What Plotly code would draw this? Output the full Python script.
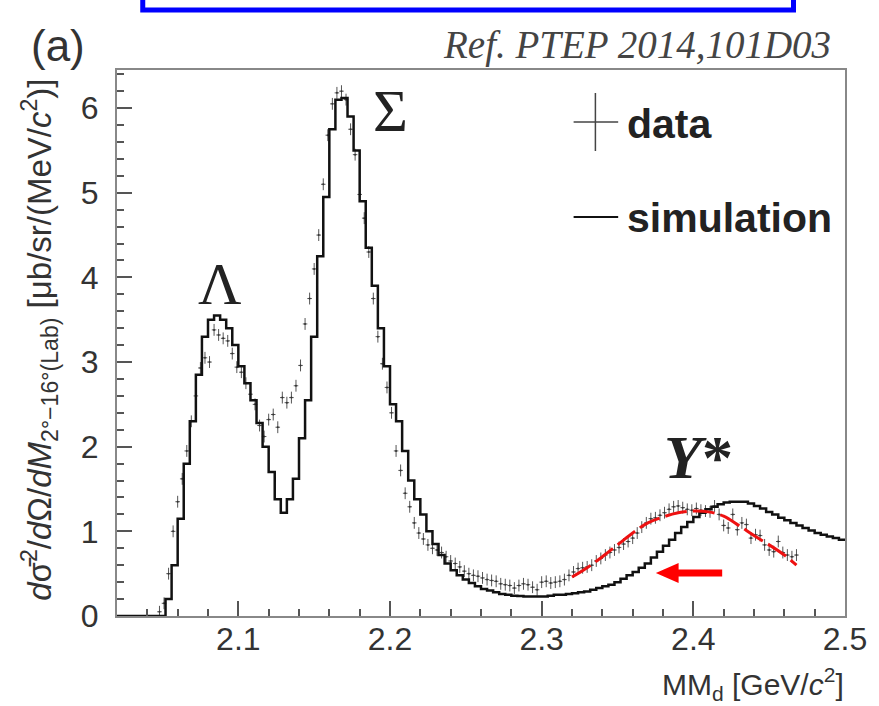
import numpy as np
import plotly.graph_objects as go

# ---------------- data ----------------
# simulation histogram: bins of 4 MeV starting at 2.048 GeV
sim_start = 2.048
sim_width = 0.004
sim_values = [
    0.0, 0.2, 0.6, 1.15, 1.8, 2.3, 2.85, 3.3, 3.5, 3.55,
    3.5, 3.4, 3.2, 2.95, 2.75, 2.55, 2.28, 2.0, 1.7, 1.38,
    1.22, 1.38, 1.62, 2.1, 2.55, 3.3, 4.25, 4.95, 5.75, 6.1,
    6.12, 5.9, 5.5, 4.9, 4.35, 3.9, 3.4, 2.95, 2.5, 2.3,
    1.95, 1.6, 1.38, 1.2, 1.0, 0.85, 0.72, 0.62, 0.54, 0.48,
    0.43, 0.39, 0.35, 0.32, 0.30, 0.28, 0.26, 0.25, 0.24, 0.235,
    0.23, 0.23, 0.23, 0.23, 0.24, 0.25, 0.25, 0.26, 0.27, 0.28,
    0.29, 0.31, 0.33, 0.35, 0.37, 0.40, 0.44, 0.48, 0.52, 0.57,
    0.62, 0.69, 0.76, 0.83, 0.90, 0.98, 1.05, 1.11, 1.17, 1.22,
    1.26, 1.29, 1.32, 1.34, 1.35, 1.35, 1.35, 1.33, 1.30, 1.27,
    1.23, 1.20, 1.16, 1.13, 1.10, 1.07, 1.04, 1.01, 0.98, 0.96,
    0.94, 0.92, 0.90,
]

# measured data points: every 3 MeV starting at 2.048 GeV
data_start = 2.048
data_step = 0.003
data_y = [
    0.05, 0.15, 0.5, 1.0, 1.35, 1.62, 1.95, 2.3, 2.6, 2.93,
    3.05, 3.0, 3.38, 3.32, 3.28, 3.25, 3.1, 2.94, 2.88, 2.75,
    2.62, 2.5, 2.25, 2.12, 2.32, 2.38, 2.23, 2.58, 2.52, 2.58,
    2.72, 2.96, 3.45, 3.75, 4.1, 4.5, 5.1, 5.68, 6.05, 6.18,
    6.2, 6.1, 5.75, 5.45, 4.98, 4.7, 4.3, 3.75, 3.3, 2.98,
    2.7, 2.4, 1.95, 1.72, 1.45, 1.29, 1.1, 0.98, 0.91, 0.84,
    0.8, 0.78, 0.75, 0.7, 0.65, 0.62, 0.58, 0.53, 0.5, 0.48,
    0.47, 0.45, 0.43, 0.42, 0.41, 0.38, 0.37, 0.36, 0.33, 0.36,
    0.38, 0.37, 0.34, 0.31, 0.40, 0.41, 0.39, 0.40, 0.41, 0.43,
    0.48, 0.52, 0.56, 0.57, 0.58, 0.60, 0.65, 0.68, 0.72, 0.75,
    0.78, 0.81, 0.85, 0.88, 0.92, 0.98, 1.05, 1.1, 1.15, 1.16,
    1.19, 1.22, 1.26, 1.29, 1.30, 1.28, 1.26, 1.25, 1.27, 1.25,
    1.24, 1.23, 1.3, 1.2, 1.07, 1.04, 1.2, 1.02, 1.1, 1.08,
    0.92, 0.96, 0.95, 0.84, 0.78, 0.76, 0.88, 0.75, 0.72, 0.7,
    0.72,
]
data_err = 0.07
data_xerr = 0.0015

# Y* fit (red dashed)
fit_x = [2.320, 2.330, 2.340, 2.350, 2.360, 2.370, 2.380, 2.390, 2.400,
         2.410, 2.420, 2.430, 2.440, 2.450, 2.460, 2.468]
fit_y = [0.46, 0.57, 0.70, 0.84, 0.98, 1.10, 1.17, 1.22, 1.24,
         1.23, 1.18, 1.07, 0.95, 0.84, 0.72, 0.60]

x_ticks = [2.1, 2.2, 2.3, 2.4, 2.5]
y_ticks = [0, 1, 2, 3, 4, 5, 6]

# ---------------- derived ----------------
n_sim = len(sim_values)
sim_edges = np.round(sim_start + sim_width * np.arange(n_sim + 1), 4)
step_x = [2.02] + list(sim_edges)
step_y = [0.0] + list(sim_values) + [sim_values[-1]]

data_x = np.round(data_start + data_step * np.arange(len(data_y)), 4)

# ---------------- figure ----------------
W, H = 879, 706
L, R, T, B = 117, 27, 70, 90
pw, ph = W - L - R, H - T - B


def px(xp):
    return (xp - L) / pw


def py(yp):
    return (H - B - yp) / ph


fig = go.Figure()

fig.add_trace(go.Scatter(
    x=data_x, y=data_y, mode="markers",
    marker=dict(color="#333333", size=2),
    error_y=dict(type="constant", value=data_err, color="#555555", thickness=1, width=0),
    error_x=dict(type="constant", value=data_xerr, color="#555555", thickness=1, width=0),
    showlegend=False, hoverinfo="skip",
))

fig.add_trace(go.Scatter(
    x=step_x, y=step_y, mode="lines", line_shape="hv",
    line=dict(color="#111111", width=2.5),
    showlegend=False, hoverinfo="skip",
))

fig.add_trace(go.Scatter(
    x=fit_x, y=fit_y, mode="lines", line_shape="spline",
    line=dict(color="#ee1111", width=3, dash="22px,6px"),
    showlegend=False, hoverinfo="skip",
))

axis_common = dict(
    showline=True, linecolor="#888888", linewidth=2, mirror=True,
    showgrid=False, zeroline=False,
    ticks="inside", tickcolor="#555555", tickwidth=1.5, ticklen=15,
    tickfont=dict(family="Liberation Sans, Arial", size=32, color="#333333"),
)

fig.update_xaxes(
    range=[2.02, 2.5], tickvals=x_ticks, ticktext=[f"{v:.1f}" for v in x_ticks],
    minor=dict(dtick=0.02, tick0=2.0, ticks="inside", ticklen=7, tickcolor="#555555", tickwidth=1.5),
    ticklabelstandoff=-6,
    **axis_common,
)
fig.update_yaxes(
    range=[0, 6.45], tickvals=y_ticks, ticktext=[str(v) for v in y_ticks],
    minor=dict(dtick=0.2, tick0=0, ticks="inside", ticklen=7, tickcolor="#555555", tickwidth=1.5),
    ticklabelstandoff=10,
    **axis_common,
)

shapes = []
# blue box at the top (partially cut)
shapes.append(dict(type="rect", xref="paper", yref="paper",
                   x0=px(143), x1=px(800), y0=py(10), y1=py(-30),
                   line=dict(color="#0000ff", width=5), fillcolor="rgba(0,0,0,0)", layer="above"))
# legend: data cross
shapes.append(dict(type="line", xref="paper", yref="paper",
                   x0=px(600), x1=px(600), y0=py(93), y1=py(151),
                   line=dict(color="#444444", width=1.5)))
shapes.append(dict(type="line", xref="paper", yref="paper",
                   x0=px(578), x1=px(623), y0=py(122), y1=py(122),
                   line=dict(color="#444444", width=1.5)))
# legend: simulation line
shapes.append(dict(type="line", xref="paper", yref="paper",
                   x0=px(578), x1=px(623), y0=py(217), y1=py(217),
                   line=dict(color="#111111", width=2)))
# red arrow (pointing left)
ax_tip, ax_neck, ax_tail = px(661), px(684), px(728)
ay_c = py(573)
hh, sh = 10 / ph, 3.5 / ph
path = (f"M {ax_tip},{ay_c} L {ax_neck},{ay_c + hh} L {ax_neck},{ay_c + sh} "
        f"L {ax_tail},{ay_c + sh} L {ax_tail},{ay_c - sh} L {ax_neck},{ay_c - sh} "
        f"L {ax_neck},{ay_c - hh} Z")
shapes.append(dict(type="path", xref="paper", yref="paper", path=path,
                   fillcolor="#ff0000", line=dict(color="#ff0000", width=0)))

annotations = []
annotations.append(dict(text="(a)", xref="paper", yref="paper", x=px(57), y=py(46),
                        showarrow=False, xanchor="center", yanchor="middle",
                        font=dict(family="Liberation Sans, Arial", size=44, color="#333333")))
annotations.append(dict(text="<i>Ref. PTEP 2014,101D03</i>", xref="paper", yref="paper",
                        x=px(840), y=py(45), showarrow=False, xanchor="right", yanchor="middle",
                        font=dict(family="Liberation Serif, Times New Roman", size=39, color="#444444")))
annotations.append(dict(text="<b>data</b>", xref="paper", yref="paper", x=px(630), y=py(124),
                        showarrow=False, xanchor="left", yanchor="middle",
                        font=dict(family="Liberation Sans, Arial", size=41, color="#222222")))
annotations.append(dict(text="<b>simulation</b>", xref="paper", yref="paper", x=px(630), y=py(218),
                        showarrow=False, xanchor="left", yanchor="middle",
                        font=dict(family="Liberation Sans, Arial", size=41, color="#222222")))
annotations.append(dict(text="Λ", xref="paper", yref="paper", x=px(221), y=py(284),
                        showarrow=False, xanchor="center", yanchor="middle",
                        font=dict(family="Liberation Serif, Times New Roman", size=60, color="#222222")))
annotations.append(dict(text="Σ", xref="paper", yref="paper", x=px(393), y=py(111),
                        showarrow=False, xanchor="center", yanchor="middle",
                        font=dict(family="Liberation Serif, Times New Roman", size=60, color="#222222")))
annotations.append(dict(text="<b><i>Y</i>*</b>", xref="paper", yref="paper", x=px(704), y=py(457),
                        showarrow=False, xanchor="center", yanchor="middle",
                        font=dict(family="Liberation Serif, Times New Roman", size=62, color="#222222")))
annotations.append(dict(
    text="<i>d</i>σ̄<sup>2</sup>/<i>d</i>Ω/<i>dM</i><sub>2°−16°(Lab)</sub> [μb/sr/(MeV/<i>c</i><sup>2</sup>)]",
    xref="paper", yref="paper", x=px(38), y=py(340), showarrow=False, textangle=-90,
    xanchor="center", yanchor="middle",
    font=dict(family="Liberation Sans, Arial", size=33, color="#333333")))
annotations.append(dict(text="MM<sub>d</sub> [GeV/<i>c</i><sup>2</sup>]", xref="paper", yref="paper",
                        x=px(853), y=py(684), showarrow=False, xanchor="right", yanchor="middle",
                        font=dict(family="Liberation Sans, Arial", size=30, color="#333333")))

fig.update_layout(
    width=W, height=H,
    margin=dict(l=L, r=R, t=T, b=B),
    paper_bgcolor="white", plot_bgcolor="white",
    shapes=shapes, annotations=annotations,
    showlegend=False,
)

fig.write_html("out.html")
